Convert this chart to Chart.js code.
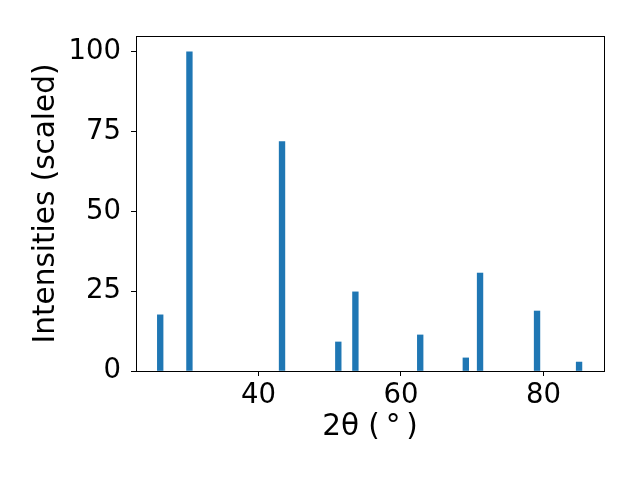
<!DOCTYPE html>
<html>
<head>
<meta charset="utf-8">
<script src="https://cdn.jsdelivr.net/npm/chart.js@4/dist/chart.umd.min.js"></script>
<style>
  html, body { margin: 0; padding: 0; background: #fff; }
  #wrap { width: 640px; height: 480px; }
</style>
</head>
<body>
<div id="wrap"><canvas id="xrd" width="640" height="480"></canvas></div>
<script>
// Peak positions (2theta, degrees) and scaled intensities
const twoTheta = [26.2, 30.3, 43.3, 51.2, 53.6, 62.7, 69.1, 71.1, 79.1, 85.0];
const intensity = [17.6, 100, 71.9, 9.1, 24.8, 11.3, 4.1, 30.7, 18.8, 2.8];

// Axis ticks and limits
const xTicks = [40, 60, 80];
const yTicks = [0, 25, 50, 75, 100];
const xLimits = [22.8, 88.5];
const yLimits = [0, 105];

const tickFont = { family: "'DejaVu Sans', sans-serif", size: 27.5 };
const labelFont = { family: "'DejaVu Sans', sans-serif", size: 29.5 };

// draw the full black box around the plot area
const frame = {
    id: "frame",
    afterDraw(chart) {
        const a = chart.chartArea;
        const ctx = chart.ctx;
        ctx.save();
        ctx.strokeStyle = "#000";
        ctx.lineWidth = 1;
        ctx.strokeRect(Math.round(a.left) + 0.5, Math.round(a.top) + 0.5,
            Math.round(a.right - a.left), Math.round(a.bottom - a.top));
        ctx.restore();
    }
};

const ctx = document.getElementById("xrd").getContext("2d");
new Chart(ctx, {
    type: "bar",
    data: {
        datasets: [{
            data: twoTheta.map((x, i) => ({ x: x, y: intensity[i] })),
            backgroundColor: "#1f77b4",
            borderWidth: 0,
            barThickness: 5.7
        }]
    },
    options: {
        responsive: false,
        animation: false,
        layout: { padding: { top: 36, right: 36, left: 0, bottom: 0 } },
        plugins: { legend: { display: false }, tooltip: { enabled: false } },
        scales: {
            x: {
                type: "linear",
                offset: false,
                min: xLimits[0],
                max: xLimits[1],
                afterBuildTicks: s => { s.ticks = xTicks.map(v => ({ value: v })); },
                afterFit: s => { s.height = 109; },
                grid: { offset: false, drawOnChartArea: false, tickLength: 5, tickColor: "#000" },
                border: { color: "#000" },
                ticks: { color: "#000", font: tickFont, padding: 3, maxRotation: 0 },
                title: { display: true, text: "2θ (\u2009°\u2009)", color: "#000", font: labelFont, padding: { top: 0, bottom: 34.5 } }
            },
            y: {
                min: yLimits[0],
                max: yLimits[1],
                afterBuildTicks: s => { s.ticks = yTicks.map(v => ({ value: v })); },
                afterFit: s => { s.width = 136; },
                grid: { drawOnChartArea: false, tickLength: 5, tickColor: "#000" },
                border: { color: "#000" },
                ticks: { color: "#000", font: tickFont, padding: 10 },
                title: { display: true, text: "Intensities (scaled)", color: "#000", font: labelFont, padding: { top: 29, bottom: 0 } }
            }
        }
    },
    plugins: [frame]
});
</script>
</body>
</html>
